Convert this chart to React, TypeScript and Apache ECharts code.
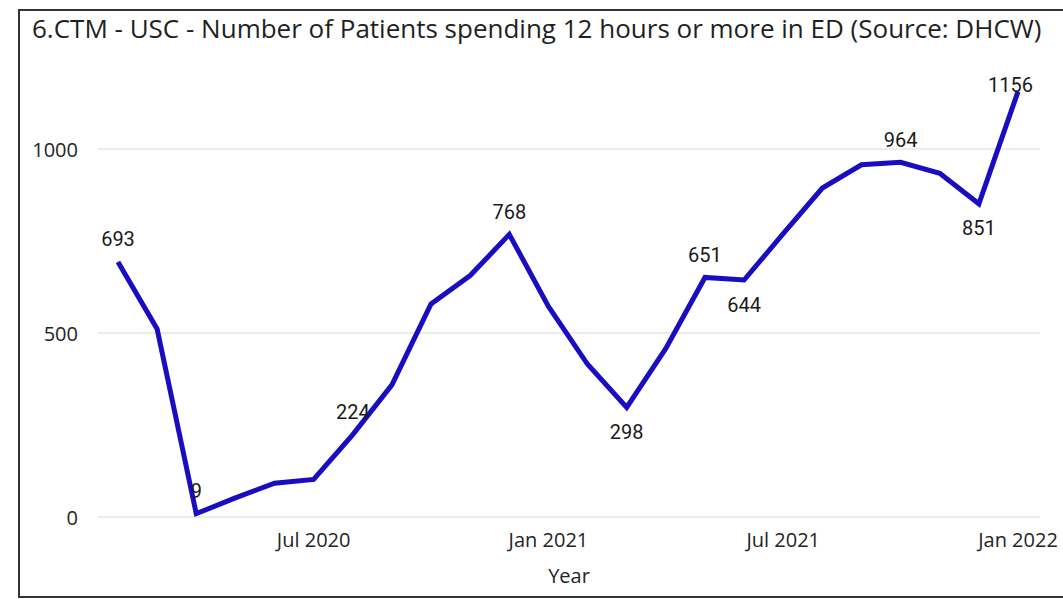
import React, { useEffect, useRef } from 'react';
import * as echarts from 'echarts';

const titleText = '6.CTM - USC - Number of Patients spending 12 hours or more in ED (Source: DHCW)';
const months = [
  'Feb 2020', 'Mar 2020', 'Apr 2020', 'May 2020', 'Jun 2020', 'Jul 2020',
  'Aug 2020', 'Sep 2020', 'Oct 2020', 'Nov 2020', 'Dec 2020', 'Jan 2021',
  'Feb 2021', 'Mar 2021', 'Apr 2021', 'May 2021', 'Jun 2021', 'Jul 2021',
  'Aug 2021', 'Sep 2021', 'Oct 2021', 'Nov 2021', 'Dec 2021', 'Jan 2022',
];
const patients = [693, 511, 9, 52, 92, 102, 224, 359, 579, 656, 768, 572, 415, 298, 458, 651, 644, 770, 894, 957, 964, 934, 851, 1156];
const labelsAbove = ['Feb 2020', 'Apr 2020', 'Aug 2020', 'Dec 2020', 'May 2021', 'Oct 2021'];
const labelsBelow = ['Mar 2021', 'Jun 2021', 'Dec 2021'];
const labelsCorner = ['Jan 2022'];
const xTickLabels = ['Jul 2020', 'Jan 2021', 'Jul 2021', 'Jan 2022'];
const yTicks = [0, 500, 1000];

export default function App() {
  const ref = useRef<HTMLDivElement>(null);
  useEffect(() => {
    if (!ref.current) return;
    const chart = echarts.init(ref.current, undefined, { renderer: 'svg' });
    const labelFont = { fontFamily: 'Roboto', fontSize: 20, color: '#1a1a1a' };
    const data = patients.map((v, i) => {
      const m = months[i];
      const item: any = { value: [i, v] };
      if (labelsAbove.includes(m)) {
        item.label = { show: true, position: 'top', distance: 12, ...labelFont };
      } else if (labelsBelow.includes(m)) {
        item.label = { show: true, position: 'bottom', distance: 14, ...labelFont };
      } else if (labelsCorner.includes(m)) {
        item.label = { show: true, position: [-7, 4], align: 'center', verticalAlign: 'bottom', ...labelFont };
      }
      return item;
    });
    chart.setOption({
      animation: false,
      backgroundColor: '#ffffff',
      title: {
        text: titleText,
        left: 32,
        top: 15,
        padding: 0,
        textStyle: { fontFamily: 'Open Sans', fontSize: 26, fontWeight: 'normal', color: '#1f1f1f' },
      },
      graphic: [
        {
          type: 'rect',
          shape: { x: 19, y: 10, width: 1060, height: 587 },
          style: { fill: 'none', stroke: '#333333', lineWidth: 2 },
          silent: true,
        },
      ],
      grid: { left: 98, right: 23, top: 75.4, bottom: 82, containLabel: false },
      xAxis: {
        type: 'value',
        min: -0.511,
        max: 23.562,
        name: 'Year',
        nameLocation: 'middle',
        nameGap: 48,
        nameTextStyle: { fontFamily: 'Open Sans', fontSize: 20, color: '#252423' },
        axisLine: { show: false },
        axisTick: { show: false },
        splitLine: { show: false },
        axisLabel: {
          customValues: xTickLabels.map((t) => months.indexOf(t)),
          formatter: (v: number) => months[Math.round(v)] ?? '',
          fontFamily: 'Open Sans',
          fontSize: 20,
          color: '#252423',
          margin: 12,
          hideOverlap: false,
        },
      },
      yAxis: {
        type: 'value',
        min: 0,
        max: 1200,
        interval: 500,
        axisLine: { show: false },
        axisTick: { show: false },
        splitLine: { show: true, showMaxLine: false, lineStyle: { color: '#e6e6e6', width: 1.5 } },
        axisLabel: {
          formatter: (v: number) => (yTicks.includes(v) ? String(v) : ''),
          showMaxLabel: false,
          fontFamily: 'Open Sans',
          fontSize: 20,
          color: '#252423',
          margin: 20,
        },
      },
      series: [
        {
          type: 'line',
          data,
          showSymbol: true,
          symbol: 'circle',
          symbolSize: 1,
          clip: false,
          lineStyle: { color: '#1a0dbf', width: 5, join: 'miter' },
          itemStyle: { color: '#1a0dbf' },
          label: { show: false },
        },
      ],
    });
    return () => chart.dispose();
  }, []);
  return (
    <div
      ref={ref}
      style={{ position: 'fixed', left: 0, top: 0, width: 1063, height: 599, background: '#fff' }}
    />
  );
}
